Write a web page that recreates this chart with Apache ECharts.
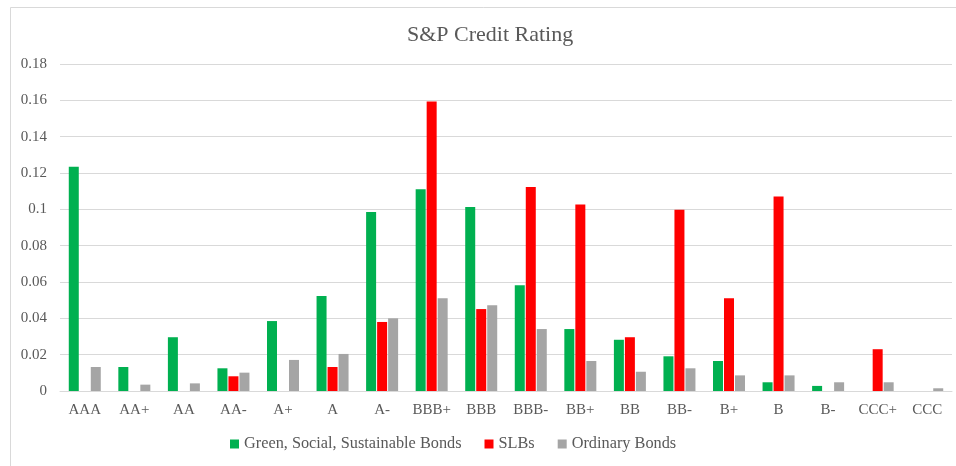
<!DOCTYPE html>
<html>
<head>
<meta charset="utf-8">
<script src="https://cdn.jsdelivr.net/npm/echarts@6/dist/echarts.min.js"></script>
<style>html,body{margin:0;padding:0;background:#fff}#c{width:956px;height:466px}</style>
</head>
<body>
<div id="c"></div>
<script>
var categories = ['AAA','AA+','AA','AA-','A+','A','A-','BBB+','BBB','BBB-','BB+','BB','BB-','B+','B','B-','CCC+','CCC'];
var greenSocial = [0.1235,0.0132,0.0296,0.0125,0.0385,0.0523,0.0985,0.111,0.1013,0.0582,0.0341,0.0282,0.0191,0.0165,0.0048,0.0028,null,null];
var slbs = [null,null,null,0.0081,null,0.0132,0.038,0.1593,0.0451,0.1123,0.1026,0.0296,0.0998,0.051,0.107,null,0.023,null];
var ordinary = [0.0132,0.0035,0.0042,0.0101,0.0171,0.0204,0.040,0.051,0.0472,0.0341,0.0165,0.0106,0.0125,0.0086,0.0086,0.0048,0.0048,0.0015];
var seriesNames = ['Green, Social, Sustainable Bonds','SLBs','Ordinary Bonds'];

var font = '"Liberation Serif", "Times New Roman", serif';
var chart = echarts.init(document.getElementById('c'), null, {renderer:'canvas'});
chart.setOption({
  animation:false,
  backgroundColor:'#fff',
  graphic:[{type:'rect',shape:{x:10.5,y:7.5,width:960,height:480},style:{fill:'none',stroke:'#D9D9D9',lineWidth:1},silent:true}],
  title:{text:'S&P Credit Rating',left:402,top:19,textStyle:{fontFamily:font,fontSize:22,fontWeight:'normal',color:'#595959'}},
  legend:{top:431,left:225,itemWidth:9,itemHeight:9,itemGap:23,icon:'rect',
    textStyle:{fontFamily:font,fontSize:16.3,color:'#595959'},data:seriesNames},
  grid:{left:60,right:4,top:64,bottom:75,containLabel:false},
  xAxis:{type:'category',data:categories,
    axisLine:{lineStyle:{color:'#D9D9D9'}},axisTick:{show:false},
    axisLabel:{fontFamily:font,fontSize:15,color:'#595959',margin:12,interval:0}},
  yAxis:{type:'value',min:0,max:0.18,interval:0.02,
    axisLine:{show:false},axisTick:{show:false},
    splitLine:{lineStyle:{color:'#D9D9D9'}},
    axisLabel:{fontFamily:font,fontSize:15,color:'#595959',margin:13,
      formatter:function(v){return v===0?'0':String(parseFloat(v.toFixed(2)));}}},
  series:[
    {name:seriesNames[0],type:'bar',data:greenSocial,barWidth:10,barGap:'10%',itemStyle:{color:'#00B050'}},
    {name:seriesNames[1],type:'bar',data:slbs,barWidth:10,barGap:'10%',itemStyle:{color:'#FF0000'}},
    {name:seriesNames[2],type:'bar',data:ordinary,barWidth:10,barGap:'10%',itemStyle:{color:'#A5A5A5'}}
  ]
});
</script>
</body>
</html>
